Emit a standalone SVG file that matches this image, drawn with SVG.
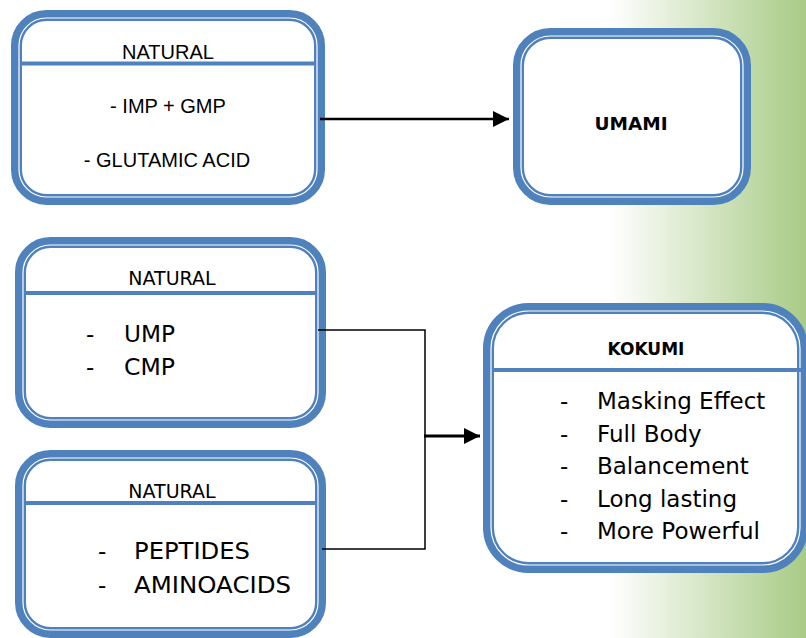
<svg xmlns="http://www.w3.org/2000/svg" width="806" height="638" viewBox="0 0 806 638">
<defs>
<linearGradient id="bg" x1="600" y1="0" x2="806" y2="0" gradientUnits="userSpaceOnUse">
<stop offset="0" stop-color="#ffffff"/>
<stop offset="0.05" stop-color="#ffffff"/>
<stop offset="1" stop-color="#a8cb86"/>
</linearGradient>
<marker id="ah" markerUnits="userSpaceOnUse" markerWidth="16" markerHeight="16" viewBox="0 0 14 14" refX="14" refY="7" orient="auto">
<path d="M0,0 L14,7 L0,14 Z" fill="#000"/>
</marker>
</defs>
<style>
.frame{fill:#fff;stroke:#4f81bd;stroke-width:11}
.inner{fill:none;stroke:#fff;stroke-width:1.2}
.div{stroke:#4f81bd;stroke-width:4}
.cal{font-family:"Liberation Sans",Arial,sans-serif;font-size:20px;fill:#000}
.ver{font-family:"DejaVu Sans",Verdana,sans-serif;fill:#000}
.big{font-size:23px}
.hdr{font-size:19px}
.bold{font-weight:bold}
.conn{fill:none;stroke:#000}
</style>
<rect x="600" y="0" width="206" height="638" fill="url(#bg)"/>

<g id="natural-umami-src">
<rect class="frame" x="16.5" y="15.5" width="303" height="184" rx="30"/>
<rect class="inner" x="19" y="18" width="298" height="179" rx="27.5"/>
<line class="div" x1="20" y1="63.5" x2="316" y2="63.5"/>
<text class="cal" x="168" y="59" text-anchor="middle">NATURAL</text>
<text class="cal" x="168" y="113" text-anchor="middle">- IMP + GMP</text>
<text class="cal" x="167" y="167" text-anchor="middle">- GLUTAMIC ACID</text>
</g>

<g id="umami">
<rect class="frame" x="518.5" y="33.5" width="227" height="166" rx="32"/>
<rect class="inner" x="521" y="36" width="222" height="161" rx="29.5"/>
<text class="ver bold" x="631" y="130" font-size="18.5" text-anchor="middle">UMAMI</text>
</g>

<g id="natural-ump">
<rect class="frame" x="20.5" y="242.5" width="300" height="180" rx="30"/>
<rect class="inner" x="23" y="245" width="295" height="175" rx="27.5"/>
<line class="div" x1="24" y1="293" x2="317" y2="293"/>
<text class="ver hdr" x="172" y="285" text-anchor="middle">NATURAL</text>
<text class="ver big" x="86" y="342">-</text>
<text class="ver big" x="124" y="342" textLength="51" lengthAdjust="spacingAndGlyphs">UMP</text>
<text class="ver big" x="86" y="375">-</text>
<text class="ver big" x="124" y="375" textLength="51" lengthAdjust="spacingAndGlyphs">CMP</text>
</g>

<g id="natural-peptides">
<rect class="frame" x="20.5" y="455.5" width="300" height="177" rx="30"/>
<rect class="inner" x="23" y="458" width="295" height="172" rx="27.5"/>
<line class="div" x1="24" y1="503" x2="317" y2="503"/>
<text class="ver hdr" x="172" y="498" text-anchor="middle">NATURAL</text>
<text class="ver big" x="98" y="559">-</text>
<text class="ver big" x="134" y="559" textLength="116" lengthAdjust="spacingAndGlyphs">PEPTIDES</text>
<text class="ver big" x="98" y="593">-</text>
<text class="ver big" x="134" y="593" textLength="157" lengthAdjust="spacingAndGlyphs">AMINOACIDS</text>
</g>

<g id="kokumi">
<rect class="frame" x="488.5" y="308.5" width="314" height="259" rx="40"/>
<rect class="inner" x="491" y="311" width="309" height="254" rx="37.5"/>
<line class="div" x1="492" y1="370" x2="806" y2="370"/>
<text class="ver bold" x="646" y="355" font-size="17" text-anchor="middle">KOKUMI</text>
<text class="ver big" x="560" y="409">-</text>
<text class="ver big" x="597" y="409">Masking Effect</text>
<text class="ver big" x="560" y="442">-</text>
<text class="ver big" x="597" y="442">Full Body</text>
<text class="ver big" x="560" y="474">-</text>
<text class="ver big" x="597" y="474">Balancement</text>
<text class="ver big" x="560" y="507">-</text>
<text class="ver big" x="597" y="507">Long lasting</text>
<text class="ver big" x="560" y="539">-</text>
<text class="ver big" x="597" y="539">More Powerful</text>
</g>

<g id="connectors">
<line class="conn" x1="320" y1="119" x2="509" y2="119" stroke-width="2.5" marker-end="url(#ah)"/>
<polyline class="conn" points="318,330 425,330 425,549 322,549" stroke-width="1.5"/>
<line class="conn" x1="424" y1="436" x2="480" y2="436" stroke-width="3" marker-end="url(#ah)"/>
</g>
</svg>
